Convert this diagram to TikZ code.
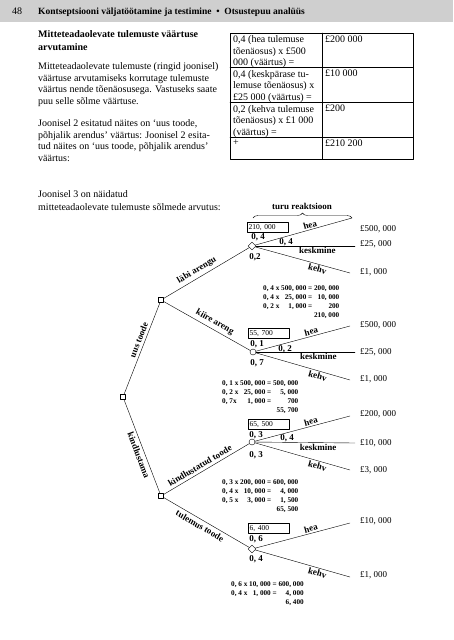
\documentclass[tikz,border=0pt]{standalone}
\usepackage{fontspec}
\setmainfont{Liberation Serif}
\usetikzlibrary{shapes.geometric,decorations.pathreplacing}

\begin{document}
\begin{tikzpicture}[x=1pt,y=-1pt,line join=round,line cap=round,
  dec/.style={draw,rectangle,minimum size=5pt,inner sep=0pt,fill=white},
  chc/.style={draw,circle,minimum size=6pt,inner sep=0pt,fill=white},
  chd/.style={draw,diamond,minimum size=8pt,inner sep=0pt,fill=white},
  lbl/.style={font=\fontsize{9}{10}\selectfont\bfseries,inner sep=1.5pt},
  brl/.style={lbl,inner sep=2.8pt},
  pr/.style={font=\fontsize{9}{10}\selectfont\bfseries,inner sep=0pt},
  pay/.style={font=\fontsize{9}{10}\selectfont,anchor=west,inner sep=0pt},
  valbox/.style={draw,anchor=north west,minimum width=41pt,minimum height=10pt,inner sep=1.5pt,text width=38pt,align=left,font=\fontsize{7.5}{8}\selectfont},
  calc/.style={anchor=north west,inner sep=0pt,font=\fontsize{7.2}{9}\selectfont\bfseries},
  txt/.style={anchor=north west,inner sep=0pt,align=left},
  cell/.style={txt,font=\fontsize{10}{11.5}\selectfont}]
\useasboundingbox (0,0) rectangle (453,640);
\fill[gray!38] (0,0) rectangle (453,22);
\node[anchor=west,inner sep=0pt,font=\fontsize{10}{12}\selectfont] (pg) at (12,11) {48};
\node[anchor=west,inner sep=0pt,font=\fontsize{9.5}{11}\selectfont\bfseries] (ti) at (38,12) {Kontseptsiooni väljatöötamine ja testimine \ • \ Otsustepuu analüüs};

\node[txt,font=\fontsize{10}{13}\selectfont\bfseries] (hd) at (38,30.3) {Mitteteadaolevate tulemuste väärtuse\\arvutamine};
\node[txt,font=\fontsize{10}{11.7}\selectfont] (p1) at (38,62.3) {Mitteteadaolevate tulemuste (ringid joonisel)\\väärtuse arvutamiseks korrutage tulemuste\\väärtus nende tõenäosusega. Vastuseks saate\\puu selle sõlme väärtuse.};
\node[txt,font=\fontsize{10}{11.7}\selectfont] (p2) at (38,119.3) {Joonisel 2 esitatud näites on ‘uus toode,\\põhjalik arendus’ väärtus: Joonisel 2 esita-\\tud näites on ‘uus toode, põhjalik arendus’\\väärtus:};
\node[txt,font=\fontsize{10}{13}\selectfont] (p3) at (38,190.3) {Joonisel 3 on näidatud\\mitteteadaolevate tulemuste sõlmede arvutus:};

\draw[thin] (230,33) rectangle (413,159);
\draw[thin] (322,33) -- (322,159);
\foreach \y in {67.5,102.5,137.5}
  \draw[thin] (230,\y) -- (413,\y);
\node[cell] (t1) at (233,35.5) {0,4 (hea tulemuse\\tõenäosus) x £500\\000 (väärtus) =};
\node[cell] (t2) at (233,70) {0,4 (keskpärase tu-\\lemuse tõenäosus) x\\£25 000 (väärtus) =};
\node[cell] (t3) at (233,105) {0,2 (kehva tulemuse\\tõenäosus) x £1 000\\(väärtus) =};
\node[cell] (t4) at (233,140) {+};
\node[cell] (s1) at (325,35.5) {£200 000};
\node[cell] (s2) at (325,70) {£10 000};
\node[cell] (s3) at (325,105) {£200};
\node[cell] (s4) at (325,140) {£210 200};

\node[dec] (r) at (123,397) {};
\node[dec] (d1) at (161,300) {};
\node[dec] (d2) at (161,496) {};
\node[chd] (c1) at (252,246) {};
\node[chc] (c2) at (253,352) {};
\node[chc] (c3) at (252,442) {};
\node[chd] (c4) at (252,549) {};
\path
  (352,218) coordinate (c1h)
  (355,246) coordinate (c1k)
  (350,273) coordinate (c1v)
  (350,326) coordinate (c2h)
  (355,352) coordinate (c2k)
  (350,380) coordinate (c2v)
  (350,416) coordinate (c3h)
  (355,443) coordinate (c3k)
  (350,470) coordinate (c3v)
  (350,523) coordinate (c4h)
  (350,577) coordinate (c4v)
  (253,218) coordinate (bl)
  (352,218) coordinate (br)
  ;
\draw (r) -- node[brl,above,sloped,pos=0.57] {uus toode} (d1);
\draw (r) -- node[brl,below,sloped,pos=0.57] {kindlustama} (d2);
\draw (d1) -- node[brl,above,sloped,pos=0.43] {läbi arengu} (c1);
\draw (d1) -- node[brl,above,sloped,pos=0.55] {kiire areng} (c2);
\draw (d2) -- node[brl,above,sloped,pos=0.46] {kindlustatud toode} (c3);
\draw (d2) -- node[brl,below,sloped,pos=0.46] {tulemus toode} (c4);

\draw (c1) -- node[lbl,above,sloped,pos=0.58] {hea} (c1h);
\draw (c1) -- node[lbl,below,pos=0.62] {keskmine} (c1k);
\draw (c1) -- node[lbl,below,sloped,pos=0.67] {kehv} (c1v);
\draw (c2) -- node[lbl,above,sloped,pos=0.6] {hea} (c2h);
\draw (c2) -- node[lbl,below,pos=0.63] {keskmine} (c2k);
\draw (c2) -- node[lbl,below,sloped,pos=0.67] {kehv} (c2v);
\draw (c3) -- node[lbl,above,sloped,pos=0.6] {hea} (c3h);
\draw (c3) -- node[lbl,below,pos=0.63] {keskmine} (c3k);
\draw (c3) -- node[lbl,below,sloped,pos=0.67] {kehv} (c3v);
\draw (c4) -- node[lbl,above,sloped,pos=0.6] {hea} (c4h);
\draw (c4) -- node[lbl,below,sloped,pos=0.67] {kehv} (c4v);

\draw[decorate,decoration={brace,amplitude=5pt}] (bl) -- (br);
\node[lbl] (tr) at (302,206) {turu reaktsioon};

\node[pr] (q1a) at (258,237) {0, 4};
\node[pr] (q1b) at (286,242) {0, 4};
\node[pr] (q1c) at (255,257) {0,2};
\node[pr] (q2a) at (257,344) {0, 1};
\node[pr] (q2b) at (285,349) {0, 2};
\node[pr] (q2c) at (257,363) {0, 7};
\node[pr] (q3a) at (256,435) {0, 3};
\node[pr] (q3b) at (287,438) {0, 4};
\node[pr] (q3c) at (256,455) {0, 3};
\node[pr] (q4a) at (256,539) {0, 6};
\node[pr] (q4c) at (256,559) {0, 4};

\node[valbox] (v1) at (247,222) {210, 000};
\node[valbox] (v2) at (248,328) {55, 700};
\node[valbox] (v3) at (248,419) {65, 500};
\node[valbox] (v4) at (248,523) {6, 400};

\node[pay] (y1a) at (360,229) {£500, 000};
\node[pay] (y1b) at (360,244) {£25, 000};
\node[pay] (y1c) at (360,272) {£1, 000};
\node[pay] (y2a) at (360,325) {£500, 000};
\node[pay] (y2b) at (360,352) {£25, 000};
\node[pay] (y2c) at (360,379) {£1, 000};
\node[pay] (y3a) at (360,414) {£200, 000};
\node[pay] (y3b) at (360,443) {£10, 000};
\node[pay] (y3c) at (360,470) {£3, 000};
\node[pay] (y4a) at (360,521) {£10, 000};
\node[pay] (y4c) at (360,575) {£1, 000};

\node[calc] (k1) at (263,284) {\begin{tabular}{@{}l@{\ }r@{\ }r@{}}
0, 4 x & 500, 000 = & 200, 000\\
0, 4 x & 25, 000 = & 10, 000\\
0, 2 x & 1, 000 = & 200\\
 & & 210, 000
\end{tabular}};
\node[calc] (k2) at (222,379) {\begin{tabular}{@{}l@{\ }r@{\ }r@{}}
0, 1 x & 500, 000 = & 500, 000\\
0, 2 x & 25, 000 = & 5, 000\\
0, 7x & 1, 000 = & 700\\
 & & 55, 700
\end{tabular}};
\node[calc] (k3) at (222,478) {\begin{tabular}{@{}l@{\ }r@{\ }r@{}}
0, 3 x & 200, 000 = & 600, 000\\
0, 4 x & 10, 000 = & 4, 000\\
0, 5 x & 3, 000 = & 1, 500\\
 & & 65, 500
\end{tabular}};
\node[calc] (k4) at (231,580) {\begin{tabular}{@{}l@{\ }r@{\ }r@{}}
0, 6 x & 10, 000 = & 600, 000\\
0, 4 x & 1, 000 = & 4, 000\\
 & & 6, 400
\end{tabular}};
\end{tikzpicture}
\end{document}
